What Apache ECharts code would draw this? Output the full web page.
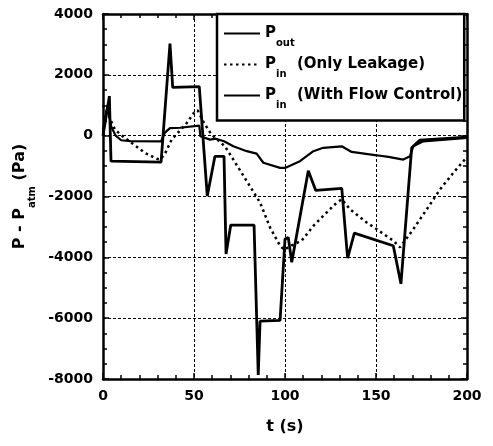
<!DOCTYPE html>
<html><head><meta charset="utf-8">
<script src="https://cdn.jsdelivr.net/npm/echarts@6/dist/echarts.min.js"></script>
<style>html,body{margin:0;padding:0;background:#fff}#c{width:493px;height:446px}</style>
</head><body><div id="c"></div>
<script>
// ---- data (t in s, P - Patm in Pa) ----
const xMin = 0, xMax = 200, xStep = 50;
const yMin = -8000, yMax = 4000, yStep = 2000;

const seriesNames = ['P_out', 'P_in (Only Leakage)', 'P_in (With Flow Control)'];

const tOut = [0, 2.5, 4.5, 7, 10, 15, 31.9, 34, 36.8, 42.3, 52.9, 53.5, 58.8, 62, 66.5, 71.6, 79, 84.4, 88.1, 97.3, 100, 108.2, 115.6, 121, 131.2, 136.6, 150.4, 156.8, 165, 168.7, 170.5, 176, 200];
const pOut = [200, 1000, 300, 0, -150, -180, -190, 100, 250, 260, 330, -20, -130, -100, -185, -350, -510, -590, -890, -1060, -1060, -840, -510, -400, -350, -535, -645, -700, -785, -675, -350, -185, -75];

const tLeak = [0, 2.5, 4.8, 6.6, 10, 15.8, 23, 29.5, 31.5, 34, 37.7, 42, 46, 50.5, 52, 55.1, 57.5, 59.7, 67, 71.6, 79, 86.3, 91.8, 97.3, 99.5, 104, 109.2, 115.6, 122, 127.5, 131.2, 135.7, 144.9, 150.4, 156.8, 159.5, 163.2, 170.5, 177.9, 185.2, 192.5, 198, 200];
const pLeak = [1000, 750, 430, 200, 20, -240, -565, -760, -780, -600, -130, 150, 415, 795, 830, 470, 230, 30, -350, -785, -1495, -2200, -3020, -3620, -3750, -3600, -3450, -2965, -2580, -2255, -2090, -2420, -2855, -3075, -3345, -3450, -3670, -3075, -2420, -1765, -1220, -840, -720];

const tFlow = [0, 3.5, 4.4, 31.9, 36.8, 38.3, 52.9, 57.3, 61.5, 66.5, 67.6, 70.2, 83, 85.3, 86.3, 97.3, 100, 101.8, 103.7, 112.8, 116.9, 131.2, 134.4, 138.1, 159.5, 163.7, 169.6, 174, 200];
const pFlow = [0, 1300, -840, -870, 3030, 1590, 1610, -1985, -680, -680, -3890, -2940, -2940, -7870, -6100, -6070, -3400, -3345, -4160, -1150, -1800, -1735, -4030, -3205, -3620, -4870, -400, -150, -50];

// ---- chart ----
const zip = (t, p) => t.map((v, i) => [v, p[i]]);
const F = 'DejaVu Sans';
const BLACK = '#000';

const axisBase = {
  axisLine: { show: true, onZero: false, lineStyle: { color: BLACK, width: 2.5 } },
  axisTick: { show: true, inside: true, length: 6, lineStyle: { color: BLACK, width: 1.5 } },
};

const chart = echarts.init(document.getElementById('c'), null, { renderer: 'canvas' });
const rich = {
  p: { fontFamily: F, fontWeight: 'bold', fontSize: 15, color: BLACK, lineHeight: 30 },
  s: { fontFamily: F, fontWeight: 'bold', fontSize: 10, color: BLACK, lineHeight: 12, verticalAlign: 'bottom' },
  t: { fontFamily: F, fontWeight: 'bold', fontSize: 15, color: BLACK, lineHeight: 30 }
};
const legendLabel = {
  'P_out': '{p|P}{s|out}',
  'P_in (Only Leakage)': '{p|P}{s|in}{t|  (Only Leakage)}',
  'P_in (With Flow Control)': '{p|P}{s|in}{t|  (With Flow Control)}'
};

chart.setOption({
  animation: false,
  backgroundColor: '#fff',
  grid: { left: 103, right: 26, top: 14, bottom: 67 },
  xAxis: [
    Object.assign({}, axisBase, {
      type: 'value', min: xMin, max: xMax, interval: xStep, position: 'bottom',
      minorTick: { show: true, splitNumber: 5, length: 4, lineStyle: { color: BLACK, width: 1.5 } },
      splitLine: { show: true, lineStyle: { color: BLACK, width: 1, type: [3, 2] } },
      axisLabel: { margin: 10, color: BLACK, fontFamily: F, fontWeight: 'bold', fontSize: 14, formatter: v => String(v) },
      name: 't (s)', nameLocation: 'middle', nameGap: 40,
      nameTextStyle: { color: BLACK, fontFamily: F, fontWeight: 'bold', fontSize: 16 }
    }),
    Object.assign({}, axisBase, {
      type: 'value', min: xMin, max: xMax, interval: xStep, position: 'top',
      minorTick: { show: true, splitNumber: 5, length: 4, lineStyle: { color: BLACK, width: 1.5 } },
      splitLine: { show: false }, axisLabel: { show: false }
    })
  ],
  yAxis: [
    Object.assign({}, axisBase, {
      type: 'value', min: yMin, max: yMax, interval: yStep, position: 'left',
      minorTick: { show: true, splitNumber: 4, length: 4, lineStyle: { color: BLACK, width: 1.5 } },
      splitLine: { show: true, lineStyle: { color: BLACK, width: 1, type: [3, 2] } },
      axisLabel: { margin: 10, color: BLACK, fontFamily: F, fontWeight: 'bold', fontSize: 14, formatter: v => String(v) },
      name: '{m|P - P}{s|atm}{m| (Pa)}', nameLocation: 'middle', nameGap: 56,
      nameTextStyle: {
        rich: {
          m: { fontFamily: F, fontWeight: 'bold', fontSize: 16, color: BLACK, lineHeight: 34 },
          s: { fontFamily: F, fontWeight: 'bold', fontSize: 10, color: BLACK, lineHeight: 8, verticalAlign: 'bottom' }
        }
      }
    }),
    Object.assign({}, axisBase, {
      type: 'value', min: yMin, max: yMax, interval: yStep, position: 'right',
      minorTick: { show: true, splitNumber: 4, length: 4, lineStyle: { color: BLACK, width: 1.5 } },
      splitLine: { show: false }, axisLabel: { show: false }
    })
  ],
  legend: {
    data: seriesNames,
    orient: 'vertical', left: 217, top: 14,
    itemWidth: 36, itemHeight: 14, itemGap: 8.5,
    padding: [12, 2, 10, 6],
    borderColor: BLACK, borderWidth: 2.5, backgroundColor: '#fff',
    align: 'left', selectedMode: false,
    itemStyle: { color: 'rgba(0,0,0,0)', borderWidth: 0, opacity: 0 },
    formatter: n => legendLabel[n],
    textStyle: { rich: rich }
  },
  series: [
    { name: seriesNames[0], type: 'line', data: zip(tOut, pOut), symbol: 'none',
      lineStyle: { color: BLACK, width: 2.2 }, itemStyle: { color: BLACK }, z: 3 },
    { name: seriesNames[1], type: 'line', data: zip(tLeak, pLeak), symbol: 'none',
      lineStyle: { color: BLACK, width: 2.5, type: [2.5, 3.5] }, itemStyle: { color: BLACK }, z: 2 },
    { name: seriesNames[2], type: 'line', data: zip(tFlow, pFlow), symbol: 'none',
      lineStyle: { color: BLACK, width: 2.8 }, itemStyle: { color: BLACK }, z: 4 }
  ]
});
</script></body></html>
